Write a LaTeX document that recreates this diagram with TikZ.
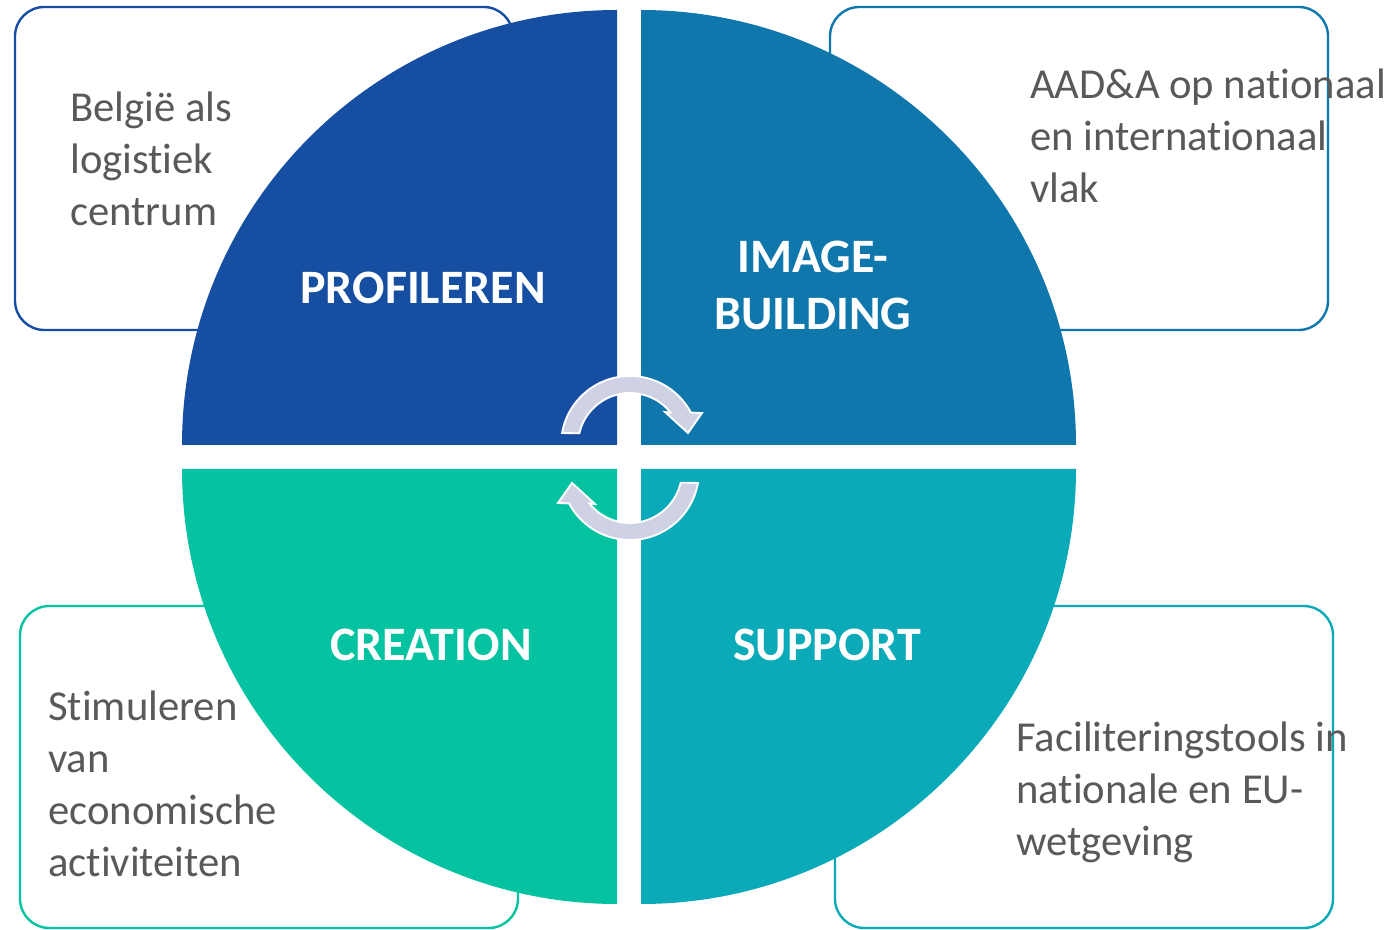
\documentclass[tikz,border=0pt]{standalone}
\usepackage{fontspec}
\setmainfont{Carlito}[Ligatures=NoCommon]
\definecolor{cTL}{RGB}{22,79,162}
\definecolor{cTR}{RGB}{16,119,172}
\definecolor{cBL}{RGB}{5,195,161}
\definecolor{cBR}{RGB}{10,170,184}
\definecolor{txtgray}{RGB}{89,89,89}
\definecolor{arrowfill}{RGB}{207,210,228}
\begin{document}
\begin{tikzpicture}[x=0.75pt,y=0.75pt,
  infobox/.style={line width=1.8pt, rounded corners=22pt, fill=white},
  desc/.style={anchor=base west, inner sep=0pt, align=left, text=txtgray,
    font=\fontsize{32pt}{39pt}\selectfont},
  quadlabel/.style={align=center, text=white, inner sep=0pt,
    font=\fontsize{36pt}{43pt}\selectfont\bfseries},
  cyclearrow/.style={fill=arrowfill, draw=white, line width=1.4pt, line join=miter}]
\useasboundingbox (0,0) rectangle (1391,929);
% boxes
\draw[infobox, draw=cTL] (15,599) rectangle (513,922);
\draw[infobox, draw=cTR] (830,599) rectangle (1328,922);
\draw[infobox, draw=cBL] (20,1) rectangle (518,323);
\draw[infobox, draw=cBR] (835,1) rectangle (1333,323);
% quarters
\fill[cTL] (617,484) -- (617,919) arc[start angle=90, end angle=180, radius=435] -- cycle;
\fill[cTR] (641,484) -- (1076,484) arc[start angle=0, end angle=90, radius=435] -- cycle;
\fill[cBL] (617,460) -- (182,460) arc[start angle=180, end angle=270, radius=435] -- cycle;
\fill[cBR] (641,460) -- (641,25) arc[start angle=270, end angle=360, radius=435] -- cycle;
% labels
\node[quadlabel] (prof) at (423,641) {PROFILEREN};
\node[quadlabel] (img) at (813,643.5) {IMAGE-\\BUILDING};
\node[quadlabel] (crea) at (431,284) {CREATION};
\node[quadlabel] (supp) at (827,284) {SUPPORT};
% descriptions (anchor = baseline of last line)
\node[desc] (dTL) at (70,703) {België als\\logistiek\\centrum};
\node[desc] (dTR) at (1030,726) {AAD\&A op nationaal\\en internationaal\\vlak};
\node[desc] (dBL) at (48,53) {Stimuleren\\van\\economische\\activiteiten};
\node[desc] (dBR) at (1016,74) {Faciliteringstools in\\nationale en EU-\\wetgeving};
% cycle arrows
\begin{scope}[shift={(630,484)}]
\draw[cyclearrow] (170:69) arc[start angle=170, end angle=28, radius=69]
  -- (72,32) -- (58,12) -- (35,33) -- (38.7:52)
  arc[start angle=38.7, end angle=167, radius=52] -- cycle;
\end{scope}
\begin{scope}[shift={(630,458)}, rotate=180]
\draw[cyclearrow] (170:69) arc[start angle=170, end angle=28, radius=69]
  -- (72,32) -- (58,12) -- (35,33) -- (38.7:52)
  arc[start angle=38.7, end angle=167, radius=52] -- cycle;
\end{scope}
\end{tikzpicture}
\end{document}
